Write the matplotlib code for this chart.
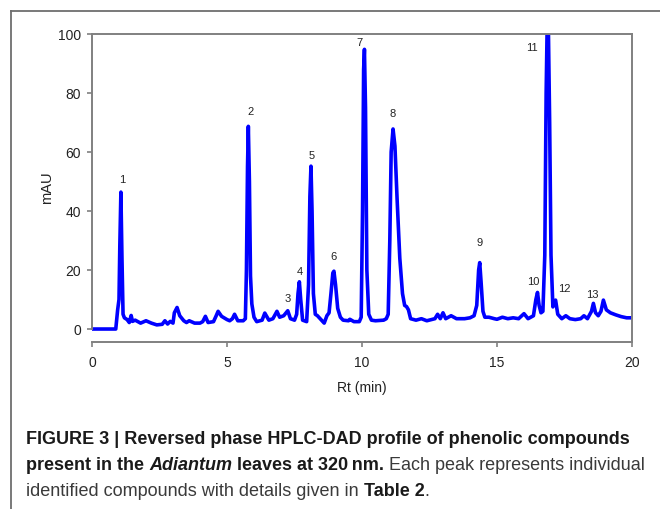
import matplotlib
matplotlib.use('Agg')
import matplotlib.pyplot as plt
from matplotlib.lines import Line2D

plt.rcParams['font.family'] = ['Liberation Sans', 'DejaVu Sans']

# chromatogram trace (Rt in min, signal in mAU)
rt_min = [
    0.0, 0.88, 0.95, 1.00, 1.03, 1.07, 1.11, 1.15, 1.2, 1.3, 1.38, 1.45, 1.5, 1.6, 1.8, 2.0, 2.2, 2.4, 2.6, 2.7, 2.8, 2.9, 3.0,
    3.05, 3.15, 3.25, 3.4, 3.5, 3.6, 3.8, 4.0, 4.1, 4.2, 4.3, 4.5, 4.6, 4.67, 4.8, 5.0, 5.1, 5.2, 5.28, 5.4, 5.6,
    5.68, 5.72, 5.76, 5.79, 5.83, 5.87, 5.92, 6.0, 6.1, 6.3, 6.4, 6.55, 6.7, 6.85, 6.95, 7.1, 7.25, 7.35, 7.5,
    7.58, 7.63, 7.68, 7.73, 7.8, 7.95, 8.02, 8.07, 8.11, 8.15, 8.2, 8.27, 8.35, 8.5, 8.6, 8.7, 8.78,
    8.85, 8.92, 8.96, 9.02, 9.1, 9.2, 9.3, 9.5, 9.55, 9.7, 9.9, 9.97, 10.02, 10.06, 10.09, 10.13, 10.18, 10.25, 10.35, 10.5, 10.8, 10.9, 10.97,
    11.03, 11.08, 11.15, 11.22, 11.3, 11.4, 11.5, 11.58, 11.65, 11.72, 11.8, 12.0, 12.2, 12.4, 12.7, 12.8, 12.9, 13.0, 13.1, 13.3, 13.5, 13.8, 14.0, 14.15,
    14.25, 14.32, 14.36, 14.41, 14.48, 14.55, 14.7, 14.9, 15.0, 15.2, 15.4, 15.6, 15.8, 16.0, 16.15, 16.35, 16.44, 16.5, 16.56, 16.63,
    16.7, 16.77, 16.82, 16.86, 16.9, 16.95, 17.0, 17.07, 17.17, 17.25, 17.4, 17.55, 17.7, 17.9, 18.1, 18.22, 18.35, 18.5, 18.57, 18.65,
    18.75, 18.85, 18.94, 19.05, 19.2, 19.4, 19.6, 19.8, 20.0,
]
mau = [
    0, 0, 6.5, 10, 28, 46.4, 24, 5, 3.8, 3.2, 2.2, 4.6, 2.6, 3.0, 2.0, 2.8, 2.0, 1.4, 1.6, 2.8, 1.7, 2.6, 2.0,
    5.5, 7.3, 4.5, 2.8, 2.2, 2.8, 2.0, 2.0, 2.5, 4.3, 2.2, 2.5, 4.5, 6.0, 4.3, 3.2, 2.8, 3.5, 5.0, 2.8, 2.8,
    3.5, 20, 55, 68.7, 50, 18, 8.5, 4, 2.5, 3, 5.4, 3, 3.5, 6, 4, 4.5, 6.2, 3.5, 3.0,
    5, 12, 16, 10, 3, 2.5, 15, 45, 55.2, 40, 12, 5, 4.5, 3, 2, 4.5, 5.5,
    12, 19, 19.6, 15, 7, 4, 3, 2.8, 3.3, 2.5, 2.5, 4, 40, 88, 94.8, 75, 20, 5, 3, 2.8, 3, 3.5, 5,
    30, 60, 67.8, 62, 44, 24, 12, 8, 7.6, 6.5, 3.5, 3, 3.5, 2.8, 3.5, 5, 3.5, 5.5, 3.5, 4.5, 3.5, 3.5, 3.8, 4.5,
    8, 20, 22.5, 16, 6, 4, 4, 3.5, 3.3, 4, 3.5, 3.8, 3.5, 5.2, 3.5, 4.5, 10, 12.4, 8, 5.5,
    6, 25, 80, 104, 104, 70, 25, 7.5, 9.8, 5, 3.5, 4.5, 3.5, 3.2, 3.5, 4.5, 3.5, 6, 8.7, 5.5,
    4.5, 6, 9.8, 6.5, 5.5, 4.8, 4.2, 3.8, 3.8,
]

# peak numbers and where their labels sit
peak_labels = ['1', '2', '3', '4', '5', '6', '7', '8', '9', '10', '11', '12', '13']
label_rt = [1.13, 5.87, 7.26, 7.68, 8.12, 8.96, 9.89, 11.15, 14.37, 16.36, 16.29, 17.48, 18.53]
label_mau = [50.6, 73.4, 10.3, 19.2, 58.5, 24.5, 97.0, 72.8, 29.0, 16.1, 95.2, 13.5, 11.6]

fig = plt.figure(figsize=(6.6, 5.09), dpi=100)

# outer frame of the figure panel (only top and left visible)
W, H = 660, 509
frame_col = '#6e6e6e'
fig.add_artist(Line2D([11 / W, 1.0], [1 - 11 / H, 1 - 11 / H], color=frame_col, lw=1.3, transform=fig.transFigure))
fig.add_artist(Line2D([11 / W, 11 / W], [1 - 11 / H, 0.0], color=frame_col, lw=1.3, transform=fig.transFigure))

ax = fig.add_axes([92 / W, 1 - 342 / H, (632 - 92) / W, (342 - 34) / H])
ax.plot(rt_min, mau, color='#0000ff', lw=2.6, solid_joinstyle='round')

ax.set_xlim(0, 20)
ax.set_ylim(-4.4, 100)
ax.set_xticks([0, 5, 10, 15, 20])
ax.set_yticks([0, 20, 40, 60, 80, 100])

spine_col = '#808080'
for s in ax.spines.values():
    s.set_color(spine_col)
    s.set_linewidth(1.4)
ax.spines['left'].set_bounds(0, 100)
ax.tick_params(axis='both', color=spine_col, width=1.2, length=3.8, labelsize=10, labelcolor='#222222')
ax.tick_params(axis='x', pad=6)
ax.tick_params(axis='y', pad=4)

ax.set_xlabel('Rt (min)', fontsize=10, color='#222222', labelpad=8)
ax.set_ylabel('mAU', fontsize=10.5, color='#222222', labelpad=3)

for lab, x, y in zip(peak_labels, label_rt, label_mau):
    ax.text(x, y, lab, ha='center', va='center', fontsize=8, color='#222222')

# caption with mixed styles
renderer = fig.canvas.get_renderer()


def draw_runs(x0, y0, runs, size):
    x = x0
    for txt, weight, style, col in runs:
        t = fig.text(x / W, 1 - y0 / H, txt, fontsize=size, fontweight=weight, fontstyle=style,
                     color=col, ha='left', va='center')
        x += t.get_window_extent(renderer).width
    return x


bold_col = '#1a1a1a'
norm_col = '#3a3a3a'
line1 = [('FIGURE 3 | Reversed phase HPLC-DAD profile of phenolic compounds', 'bold', 'normal', bold_col)]
line2 = [('present in the ', 'bold', 'normal', bold_col),
         ('Adiantum', 'bold', 'italic', bold_col),
         (' leaves at 320\u2009nm.', 'bold', 'normal', bold_col),
         (' Each peak represents individual', 'normal', 'normal', norm_col)]
line3 = [('identified compounds with details given in ', 'normal', 'normal', norm_col),
         ('Table 2', 'bold', 'normal', bold_col),
         ('.', 'normal', 'normal', norm_col)]

# size the caption so that its widest line spans the panel
n_before = len(fig.texts)
w1 = draw_runs(0, -100, line1, 12)
w2 = draw_runs(0, -100, line2, 12)
for t in fig.texts[n_before:]:
    t.remove()
cap_size = 12 * 618 / max(w1, w2)

draw_runs(26, 440, line1, cap_size)
draw_runs(26, 466, line2, cap_size)
draw_runs(26, 491, line3, cap_size)

fig.savefig('out.png', dpi=100)
